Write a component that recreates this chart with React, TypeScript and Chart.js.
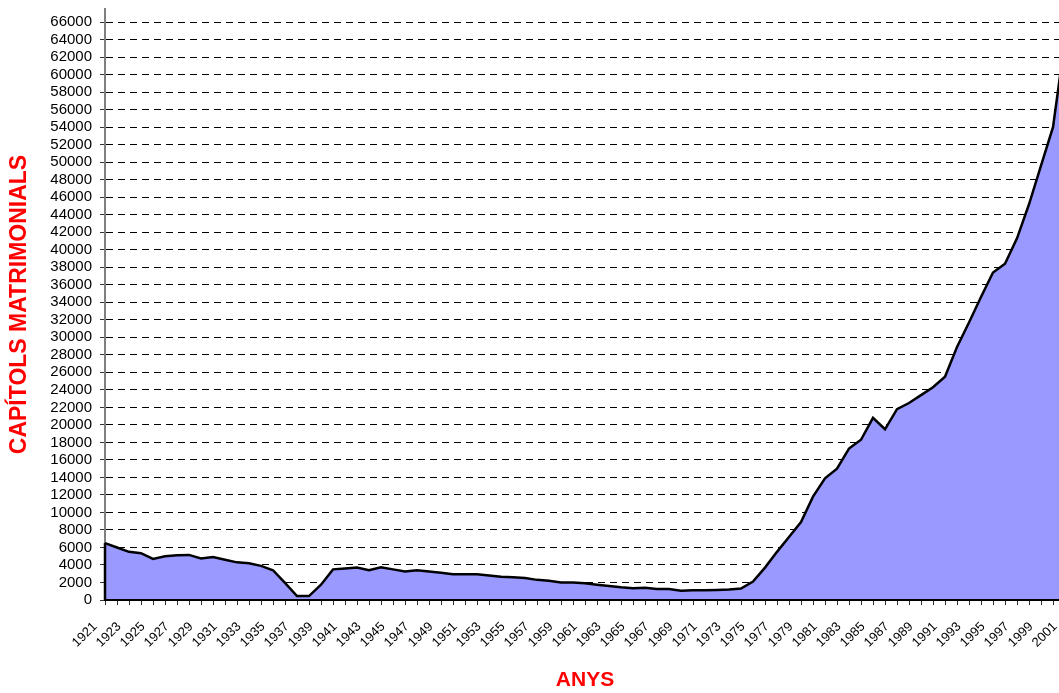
import React, { useEffect, useRef } from 'react';
import { Chart, registerables } from 'chart.js';

Chart.register(...registerables);

const years: string[] = [
  '1921', '1922', '1923', '1924', '1925', '1926', '1927', '1928', '1929', '1930',
  '1931', '1932', '1933', '1934', '1935', '1936', '1937', '1938', '1939', '1940',
  '1941', '1942', '1943', '1944', '1945', '1946', '1947', '1948', '1949', '1950',
  '1951', '1952', '1953', '1954', '1955', '1956', '1957', '1958', '1959', '1960',
  '1961', '1962', '1963', '1964', '1965', '1966', '1967', '1968', '1969', '1970',
  '1971', '1972', '1973', '1974', '1975', '1976', '1977', '1978', '1979', '1980',
  '1981', '1982', '1983', '1984', '1985', '1986', '1987', '1988', '1989', '1990',
  '1991', '1992', '1993', '1994', '1995', '1996', '1997', '1998', '1999', '2000',
  '2001',
];

const capitols: number[] = [
  6500, 6000, 5500, 5350, 4700, 5000, 5100, 5150, 4750, 4900,
  4600, 4300, 4200, 3900, 3400, 1950, 450, 450, 1750, 3500,
  3600, 3700, 3400, 3750, 3500, 3250, 3400, 3250, 3100, 2950,
  2950, 2950, 2800, 2650, 2600, 2500, 2300, 2200, 2000, 2000,
  1900, 1750, 1600, 1450, 1350, 1400, 1250, 1250, 1050, 1100,
  1100, 1150, 1200, 1300, 2100, 3700, 5500, 7200, 8900, 11800,
  13900, 15000, 17300, 18300, 20800, 19500, 21800, 22500, 23400, 24300,
  25500, 28900, 31700, 34600, 37400, 38400, 41300, 45200, 49600, 54000,
  64000,
];

const yTickValues: number[] = [
  0, 2000, 4000, 6000, 8000, 10000, 12000, 14000, 16000, 18000, 20000,
  22000, 24000, 26000, 28000, 30000, 32000, 34000, 36000, 38000, 40000,
  42000, 44000, 46000, 48000, 50000, 52000, 54000, 56000, 58000, 60000,
  62000, 64000, 66000,
];

const yMin = 0;
const yMax = 67500;

const yTitle = 'CAPÍTOLS MATRIMONIALS';
const xTitle = 'ANYS';

const FONT = '"Liberation Sans", Arial, Helvetica, sans-serif';

const leftEdgePlugin = {
  id: 'leftEdge',
  afterDatasetsDraw(chart: any) {
    const meta = chart.getDatasetMeta(0);
    const p = meta.data[0];
    if (!p) return;
    const y0 = chart.scales.y.getPixelForValue(0);
    const ctx = chart.ctx;
    ctx.save();
    ctx.strokeStyle = '#000';
    ctx.lineWidth = 2.5;
    ctx.beginPath();
    ctx.moveTo(p.x, p.y);
    ctx.lineTo(p.x, y0);
    ctx.stroke();
    ctx.restore();
  },
};

export default function App() {
  const canvasRef = useRef<HTMLCanvasElement | null>(null);

  useEffect(() => {
    document.body.style.margin = '0';
    document.body.style.overflow = 'hidden';
    const canvas = canvasRef.current;
    if (!canvas) return;
    const chart = new Chart(canvas, {
      type: 'line',
      data: {
        labels: years,
        datasets: [
          {
            data: capitols,
            borderColor: '#000000',
            borderWidth: 2.5,
            backgroundColor: '#9999FF',
            fill: 'origin',
            pointRadius: 0,
            tension: 0,
          },
        ],
      },
      options: {
        animation: false,
        responsive: false,
        devicePixelRatio: 1,
        layout: { padding: { left: 0, right: 15, top: 9, bottom: 0 } },
        plugins: {
          legend: { display: false },
          tooltip: { enabled: false },
        },
        scales: {
          x: {
            type: 'category',
            offset: false,
            afterFit: (scale: any) => {
              scale.height = 93;
              scale.paddingLeft = 0;
              scale.paddingRight = 0;
            },
            grid: {
              display: true,
              drawOnChartArea: false,
              drawTicks: true,
              tickLength: 5,
              tickColor: '#333333',
              tickWidth: 1,
            },
            border: { display: true, color: '#000000', width: 2, z: 1 },
            ticks: {
              autoSkip: false,
              minRotation: 45,
              maxRotation: 45,
              padding: 14,
              labelOffset: -10,
              color: '#000000',
              font: { family: FONT, size: 13 },
              callback: (_v: any, i: number) => (i % 2 === 0 ? years[i] : ''),
            },
            title: {
              display: true,
              text: xTitle,
              color: '#FF0000',
              font: { family: FONT, size: 21, weight: 'bold' },
              padding: { top: 0, bottom: 0 },
            },
          },
          y: {
            type: 'linear',
            min: yMin,
            max: yMax,
            afterFit: (scale: any) => {
              scale.width = 105;
              scale.paddingTop = 0;
              scale.paddingBottom = 0;
            },
            afterBuildTicks: (scale: any) => {
              scale.ticks = yTickValues.map((v) => ({ value: v }));
            },
            grid: {
              display: true,
              drawOnChartArea: true,
              color: '#000000',
              lineWidth: 1,
              drawTicks: true,
              tickLength: 5,
              tickColor: '#333333',
              tickWidth: 1,
              tickBorderDash: [],
            },
            border: { display: true, color: '#808080', width: 2, dash: [7, 5] },
            ticks: {
              autoSkip: false,
              padding: 8,
              color: '#000000',
              font: { family: FONT, size: 15 },
              callback: (v: any) => String(v),
            },
            title: {
              display: true,
              text: yTitle,
              color: '#FF0000',
              font: { family: FONT, size: 23, weight: 'bold' },
              padding: { top: 6, bottom: 0 },
            },
          },
        },
      },
      plugins: [leftEdgePlugin],
    } as any);
    return () => {
      chart.destroy();
    };
  }, []);

  return (
    <div
      style={{
        position: 'fixed',
        left: 0,
        top: 0,
        width: 1059,
        height: 693,
        overflow: 'hidden',
        background: '#ffffff',
      }}
    >
      <canvas ref={canvasRef} width={1080} height={693} style={{ display: 'block' }} />
    </div>
  );
}
